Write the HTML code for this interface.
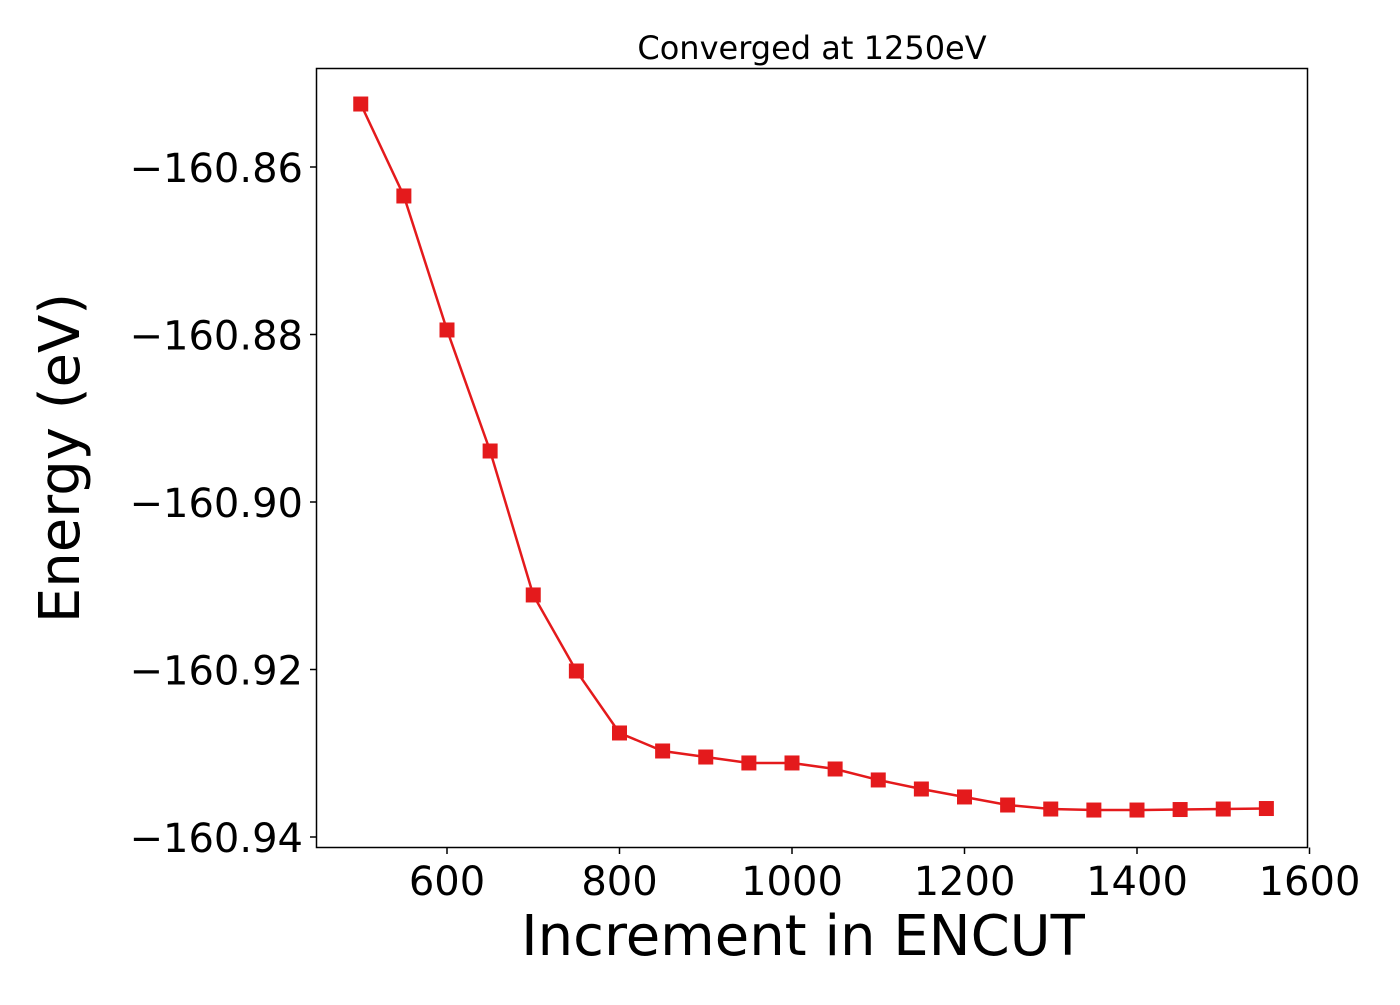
<!DOCTYPE html>
<html><head><meta charset="utf-8"><style>
html,body{margin:0;padding:0;background:#fff;}
svg text{font-family:"DejaVu Sans","Liberation Sans",sans-serif;fill:#000;}
</style></head><body>
<svg id="chart" width="1400" height="1000" xmlns="http://www.w3.org/2000/svg">
<text x="812" y="59" font-size="32" text-anchor="middle">Converged at 1250eV</text>
<rect x="316.5" y="68.5" width="991" height="779" fill="none" stroke="#000" stroke-width="1.5"/>
<g id="xticks"></g>
<g id="yticks"></g>
<text x="803" y="955" font-size="56" text-anchor="middle">Increment in ENCUT</text>
<text transform="translate(79,458) rotate(-90)" font-size="56" text-anchor="middle">Energy (eV)</text>
<g id="series"></g>
</svg>
<script>
const encut = [500,550,600,650,700,750,800,850,900,950,1000,1050,1100,1150,1200,1250,1300,1350,1400,1450,1500,1550];
const energy = [-160.85248,-160.86346,-160.87946,-160.89391,-160.91110,-160.92018,-160.92758,-160.92973,-160.93045,-160.93116,-160.93116,-160.93188,-160.93319,-160.93427,-160.93522,-160.93618,-160.93666,-160.93678,-160.93678,-160.93672,-160.93666,-160.93660];
const xTickVals = [600,800,1000,1200,1400,1600];
const yTickVals = [-160.86,-160.88,-160.90,-160.92,-160.94];
const yTickLabels = ["\u2212160.86","\u2212160.88","\u2212160.90","\u2212160.92","\u2212160.94"];

const NS="http://www.w3.org/2000/svg";
function xs(v){return 447+(v-600)*(172.5/200);}
function ys(v){return 167+(-160.86-v)*(167.5/0.02);}

const xg=document.getElementById('xticks');
xTickVals.forEach(v=>{
  const l=document.createElementNS(NS,'line');
  
  
  l.setAttribute('x1',xs(v));l.setAttribute('x2',xs(v));
  l.setAttribute('y1',847.5);l.setAttribute('y2',854);
  l.setAttribute('stroke','#000');l.setAttribute('stroke-width','1.5');
  xg.appendChild(l);
  const t=document.createElementNS(NS,'text');
  
  
  t.setAttribute('x',xs(v));t.setAttribute('y',895);
  t.setAttribute('font-size','40');t.setAttribute('text-anchor','middle');
  t.textContent=v;
  xg.appendChild(t);
});
const yg=document.getElementById('yticks');
yTickVals.forEach((v,i)=>{
  const l=document.createElementNS(NS,'line');
  
  
  l.setAttribute('x1',310);l.setAttribute('x2',316.5);
  l.setAttribute('y1',ys(v));l.setAttribute('y2',ys(v));
  l.setAttribute('stroke','#000');l.setAttribute('stroke-width','1.5');
  yg.appendChild(l);
  const t=document.createElementNS(NS,'text');
  
  
  t.setAttribute('x',303);t.setAttribute('y',ys(v)+15);
  t.setAttribute('font-size','40');t.setAttribute('text-anchor','end');
  t.textContent=yTickLabels[i];
  yg.appendChild(t);
});
const sg=document.getElementById('series');
const pl=document.createElementNS(NS,'polyline');


pl.setAttribute('points',encut.map((x,i)=>xs(x)+','+ys(energy[i])).join(' '));
pl.setAttribute('fill','none');pl.setAttribute('stroke','#e41a1c');pl.setAttribute('stroke-width','2.5');
sg.appendChild(pl);
encut.forEach((x,i)=>{
  const r=document.createElementNS(NS,'rect');
  
  
  r.setAttribute('x',xs(x)-7.5);r.setAttribute('y',ys(energy[i])-7.5);
  r.setAttribute('width',15);r.setAttribute('height',15);
  r.setAttribute('fill','#e41a1c');
  sg.appendChild(r);
});
</script>
</body></html>
